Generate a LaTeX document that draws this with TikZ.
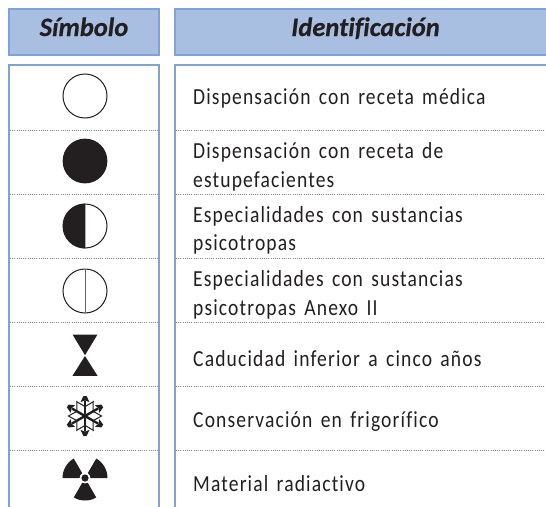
\documentclass[tikz,border=0pt]{standalone}
\usepackage{fontspec}
\setmainfont{Carlito}
\newfontfamily\bodyfont[FakeStretch=0.85,LetterSpace=5.0,WordSpace=1.5,Ligatures=NoCommon]{Carlito}
\newfontfamily\headfont[Ligatures=NoCommon,BoldItalicFeatures={FakeBold=0.5}]{Carlito}
\definecolor{hfill}{HTML}{A9BFE1}
\definecolor{hline}{HTML}{7FA3D6}
\definecolor{ink}{HTML}{231F20}
\definecolor{dotc}{HTML}{8A8A8A}
\tikzset{
  headbox/.style={fill=hfill,draw=hline,line width=1.2pt},
  tablebox/.style={draw=hline,line width=1.2pt},
  rowline/.style={draw=dotc,line width=0.7pt,dash pattern=on 1pt off 1.2pt},
  headtext/.style={inner sep=0,anchor=base,text=ink,font=\headfont\fontsize{26.5}{26.5}\selectfont\bfseries\itshape},
  bodytext/.style={inner sep=0,anchor=base west,text=ink,font=\bodyfont\fontsize{23}{23}\selectfont},
  ring/.style={draw=ink,line width=1pt},
}
\begin{document}
\begin{tikzpicture}[x=1pt,y=-1pt]
\useasboundingbox (0,0) rectangle (546,506);
% headers
\draw[headbox] (9,9) rectangle (159,55);
\draw[headbox] (175,9) rectangle (548,55);
\node[headtext] (hs) at (84,36) {Símbolo};
\node[headtext] (hi) at (365.5,36) {Identificación};
% table frames
\draw[tablebox] (9,508) -- (9,65) -- (159,65) -- (159,508);
\draw[tablebox] (175,508) -- (175,65) -- (548,65);
% row separators
\foreach \y in {130.5,194.5,258.5,322.5,386,450}{
  \draw[rowline] (10,\y) -- (158,\y);
  \draw[rowline] (176,\y) -- (546,\y);
}
% symbols
\draw[ring] (85,96) circle (22);
\fill[ink] (85,161) circle (22.4);
\draw[ring] (85,226) circle (22);
\fill[ink] (85.4,203.6) arc (-90:-270:22.4) -- cycle;
\draw[ring] (85,291) circle (22);
\draw[draw=ink!70,line width=1pt] (85,269) -- (85,313);
% hourglass
\fill[ink] (72.5,334.5) -- (97.5,334.5) -- (85,355.2) -- cycle;
\fill[ink] (72.5,375.8) -- (97.5,375.8) -- (85,356) -- cycle;
% snowflake
\begin{scope}[shift={(85,416)}]
  \foreach \a in {0,60,120,180,240,300}{
    \draw[ink,line width=1pt] (\a-30:9.4) -- (\a:16.5) -- (\a+30:9.4);
  }
  \foreach \a in {30,90,150,210,270,330}{
    \begin{scope}[rotate=\a]
      \draw[ink,line width=2.4pt] (0,0) -- (15,0);
      \fill[ink] (20,-1.6) -- (20,1.6) -- (14,4.4) -- (15.5,0) -- (14,-4.4) -- cycle;
    \end{scope}
  }
\end{scope}
% radiation
\begin{scope}[shift={(85,478)}]
  \foreach \a in {90,210,330}{
    \fill[ink] (\a-30:5.5) -- (\a-30:22.5) arc (\a-30:\a+30:22.5) -- (\a+30:5.5) arc (\a+30:\a-30:5.5) -- cycle;
  }
  \fill[ink] (0,0) circle (3.6);
\end{scope}
% texts
\node[bodytext] (t1) at (193,104) {Dispensación con receta médica};
\node[bodytext] (t2a) at (193,158) {Dispensación con receta de};
\node[bodytext] (t2b) at (193,187) {estupefacientes};
\node[bodytext] (t3a) at (193,222) {Especialidades con sustancias};
\node[bodytext] (t3b) at (193,250) {psicotropas};
\node[bodytext] (t4a) at (193,286) {Especialidades con sustancias};
\node[bodytext] (t4b) at (193,315) {psicotropas Anexo II};
\node[bodytext] (t5) at (193,366) {Caducidad inferior a cinco años};
\node[bodytext] (t6) at (193,427) {Conservación en frigorífico};
\node[bodytext] (t7) at (193,491) {Material radiactivo};
\end{tikzpicture}
\end{document}
